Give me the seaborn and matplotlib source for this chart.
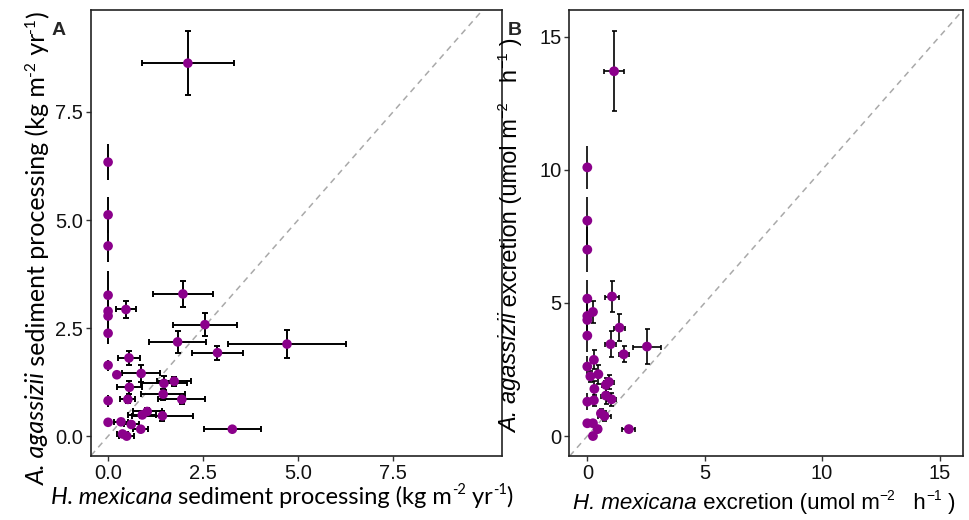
import matplotlib
matplotlib.use("Agg")
import numpy as np
import pandas as pd
import seaborn as sns
import matplotlib.pyplot as plt
from matplotlib.font_manager import FontProperties

# ---------------- data ----------------
# Panel A: sediment processing (kg m-2 yr-1)
a_x = [2.10, 0, 0, 0, 0, 1.97, 0, 0, 0.47, 2.55, 0, 1.83, 4.71, 2.88, 0.55, 0,
       0.23, 0.87, 1.47, 1.74, 0.56, 1.45, 1.94, 0, 0.52, 1.03, 0.90, 1.43, 0,
       0.34, 0.61, 0.86, 3.27, 0.38, 0.49]
a_y = [8.63, 6.34, 5.12, 4.40, 3.26, 3.29, 2.89, 2.78, 2.93, 2.58, 2.38, 2.18,
       2.13, 1.93, 1.81, 1.64, 1.42, 1.45, 1.22, 1.27, 1.13, 0.97, 0.85, 0.82,
       0.85, 0.57, 0.49, 0.47, 0.32, 0.33, 0.27, 0.16, 0.16, 0.05, 0.00]
a_xerr = [1.22, 0, 0, 0, 0, 0.79, 0, 0, 0.26, 0.85, 0, 0.75, 1.56, 0.68, 0.30, 0,
          0.05, 0.50, 0.60, 0.45, 0.32, 0.58, 0.62, 0, 0.20, 0.38, 0.37, 0.80, 0,
          0.18, 0.20, 0.20, 0.75, 0.15, 0.20]
a_yerr = [0.74, 0.42, 0.42, 0.38, 0.55, 0.31, 0.30, 0.30, 0.20, 0.26, 0.25, 0.25,
          0.33, 0.16, 0.17, 0.13, 0.05, 0.19, 0.16, 0.10, 0.15, 0.13, 0.10, 0.14,
          0.08, 0.08, 0.08, 0.12, 0.05, 0.03, 0.05, 0.05, 0.03, 0.03, 0.03]

# Panel B: excretion (umol m-2 h-1)
b_x = [1.14, 0, 0, 0, 0, 1.05, 0.24, 0, 0, 1.37, 0, 0.99, 2.54, 1.55, 0.28, 0,
       0.13, 0.47, 0.92, 0.79, 0.30, 0.79, 1.03, 0, 0.28, 0.58, 0.73, 0, 0.24,
       0.44, 0.24, 1.77]
b_y = [13.70, 10.09, 8.09, 7.00, 5.16, 5.24, 4.66, 4.51, 4.36, 4.07, 3.77, 3.45,
       3.36, 3.07, 2.86, 2.61, 2.24, 2.32, 2.03, 1.92, 1.77, 1.52, 1.38, 1.29,
       1.34, 0.85, 0.75, 0.48, 0.48, 0.26, 0.00, 0.26]
b_xerr = [0.44, 0, 0, 0, 0, 0.31, 0.05, 0, 0, 0.25, 0, 0.23, 0.59, 0.22, 0.05, 0,
          0.03, 0.08, 0.20, 0.15, 0.05, 0.20, 0.21, 0, 0.05, 0.10, 0.27, 0, 0.05,
          0.05, 0.03, 0.28]
b_yerr = [1.50, 0.80, 0.90, 0.85, 0.70, 0.60, 0.40, 0.60, 0.60, 0.50, 0.60, 0.50,
          0.66, 0.30, 0.36, 0.40, 0.20, 0.36, 0.25, 0.25, 0.30, 0.30, 0.25, 0.31,
          0.20, 0.15, 0.20, 0.10, 0.10, 0.10, 0.05, 0.05]

a_ticks = [0, 2.5, 5.0, 7.5]
a_ticklabels = ["0.0", "2.5", "5.0", "7.5"]
b_ticks = [0, 5, 10, 15]
b_ticklabels = ["0", "5", "10", "15"]

# ---------------- style ----------------
sns.set_theme(style="white")
plt.rcParams["font.family"] = ["Liberation Sans", "DejaVu Sans"]

PURPLE = "#8B008B"
W, H = 969, 520
fig = plt.figure(figsize=(W / 100, H / 100), dpi=100)


def px_axes(l, t, r, b):
    return [l / W, 1 - b / H, (r - l) / W, (b - t) / H]


axA = fig.add_axes(px_axes(91, 10, 502, 456))
axB = fig.add_axes(px_axes(569, 10, 963, 456))


def draw_panel(ax, x, y, xerr, yerr, cap, elw, msize, xlim, ylim, ticks, labels):
    df = pd.DataFrame({"x": x, "y": y, "xerr": xerr, "yerr": yerr})
    ax.axline((0, 0), slope=1, color="#A9A9A9", ls=(0, (4, 3.2)), lw=1.1, zorder=1)
    wx = df[df.xerr > 0]
    nx = df[df.xerr == 0]
    ax.errorbar(wx.x, wx.y, xerr=wx.xerr, yerr=wx.yerr, fmt="none", ecolor="black",
                elinewidth=elw, capsize=cap, capthick=elw, zorder=2)
    ax.errorbar(nx.x, nx.y, yerr=nx.yerr, fmt="none", ecolor="black",
                elinewidth=elw, capsize=0, zorder=2)
    sns.scatterplot(data=df, x="x", y="y", ax=ax, color=PURPLE, s=msize,
                    edgecolor="none", linewidth=0, zorder=3, legend=False)
    ax.set_xlim(*xlim)
    ax.set_ylim(*ylim)
    ax.set_xticks(ticks)
    ax.set_xticklabels(labels)
    ax.set_yticks(ticks)
    ax.set_yticklabels(labels)
    ax.set_xlabel("")
    ax.set_ylabel("")
    for s in ax.spines.values():
        s.set_color("#222222")
        s.set_linewidth(1.2)
        s.set_visible(True)
    ax.tick_params(bottom=True, left=True, direction="out", length=3.5, width=1.0,
                   color="#333333", labelsize=14.5, pad=2, labelcolor="#111111")
    ax.grid(False)


draw_panel(axA, a_x, a_y, a_xerr, a_yerr, 2.5, 1.4, 48,
           (-0.45, 10.37), (-0.46, 9.86), a_ticks, a_ticklabels)
draw_panel(axB, b_x, b_y, b_xerr, b_yerr, 1.8, 1.2, 50,
           (-0.78, 16.0), (-0.75, 16.0), b_ticks, b_ticklabels)

# panel letters
fig.text(59 / W, 1 - 35 / H, "A", fontsize=14, fontweight="bold", ha="center", va="baseline")
fig.text(515 / W, 1 - 35 / H, "B", fontsize=14, fontweight="bold", ha="center", va="baseline")

# ---------------- rich axis titles ----------------
renderer = fig.canvas.get_renderer()


def piece_width(s, fp):
    w1 = renderer.get_text_width_height_descent("x" + s + "x", fp, ismath=False)[0]
    w0 = renderer.get_text_width_height_descent("xx", fp, ismath=False)[0]
    return w1 - w0


def rich(pieces, family, size, center, baseline, vertical=False):
    props = []
    total = 0
    for txt, kind in pieces:
        if kind == "sup":
            fp = FontProperties(family=family, size=size * 0.62)
            rise = size * 0.42 * 100 / 72
        else:
            fp = FontProperties(family=family, size=size,
                                style="italic" if kind == "it" else "normal")
            rise = 0
        w = piece_width(txt, fp)
        props.append((txt, fp, rise, w))
        total += w
    pos = center - total / 2 if not vertical else center + total / 2
    for txt, fp, rise, w in props:
        if not vertical:
            fig.text(pos / W, 1 - (baseline - rise) / H, txt, fontproperties=fp,
                     ha="left", va="baseline", color="black")
            pos += w
        else:
            fig.text((baseline - rise) / W, 1 - pos / H, txt, fontproperties=fp,
                     ha="left", va="baseline", rotation=90, rotation_mode="anchor",
                     color="black")
            pos -= w


titleA_x = [("H. mexicana", "it"), (" sediment processing (kg m", "rm"), ("-2", "sup"),
            (" yr", "rm"), ("-1", "sup"), (")", "rm")]
titleA_y = [("A. agassizii", "it"), (" sediment processing (kg m", "rm"), ("-2", "sup"),
            (" yr", "rm"), ("-1", "sup"), (")", "rm")]
titleB_x = [("H. mexicana", "it"), (" excretion (umol m", "rm"), ("\u22122", "sup"),
            ("   h", "rm"), ("\u22121", "sup"), (" )", "rm")]
titleB_y = [("A. agassizii", "it"), (" excretion (umol m", "rm"), ("\u22122", "sup"),
            ("   h", "rm"), ("\u22121", "sup"), (" )", "rm")]

rich(titleA_x, "Lato", 17.0, 282, 504)
rich(titleA_y, "Lato", 18.0, 248, 45, vertical=True)
rich(titleB_x, "Liberation Sans", 16.0, 764, 509)
rich(titleB_y, "Liberation Sans", 17.0, 235, 517, vertical=True)

fig.savefig("out.png", dpi=100)
